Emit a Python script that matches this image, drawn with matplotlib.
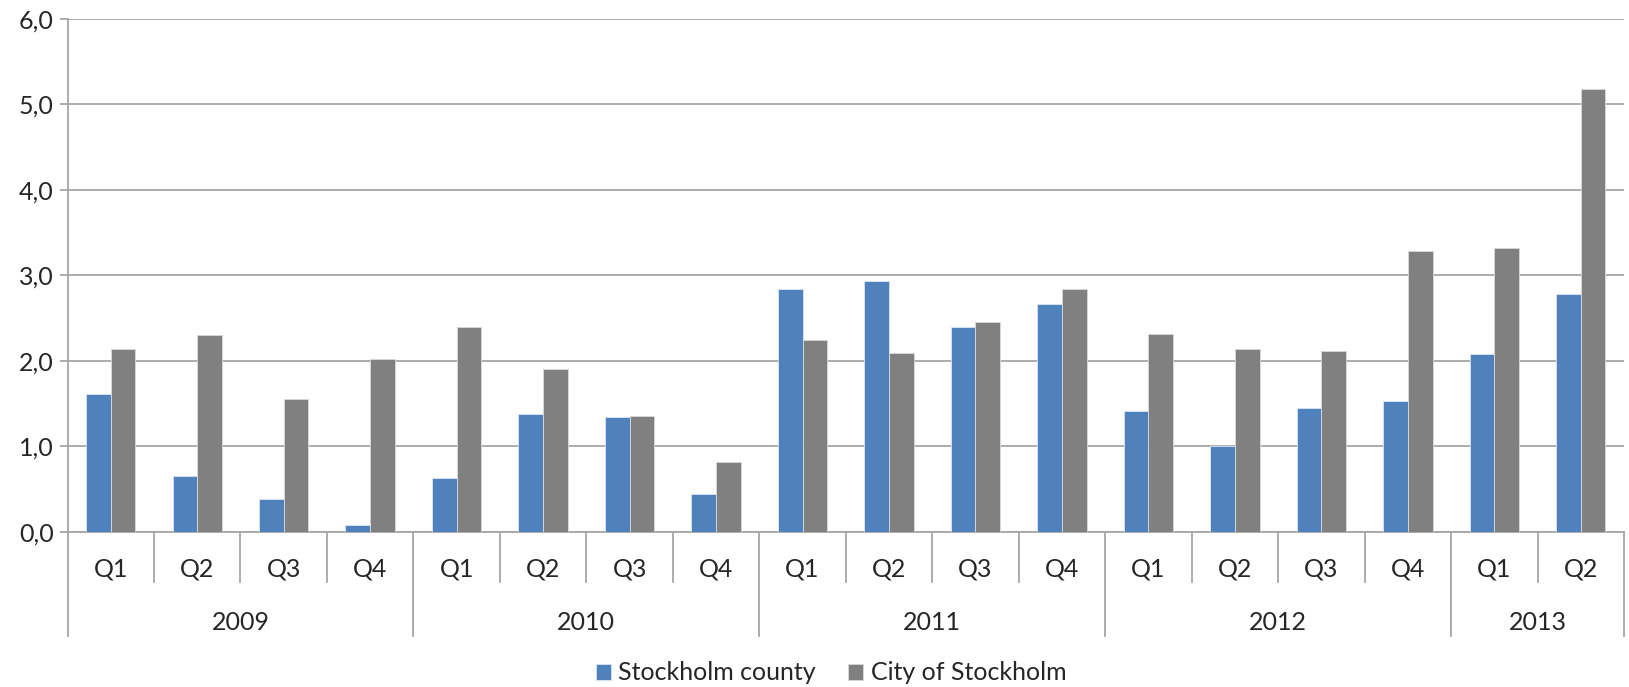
import numpy as np
import matplotlib
matplotlib.use("Agg")
from matplotlib import pyplot as plt
import matplotlib.transforms as mtransforms

plt.rcParams['font.family'] = ['Lato', 'DejaVu Sans']

quarters = ["Q1", "Q2", "Q3", "Q4", "Q1", "Q2", "Q3", "Q4", "Q1", "Q2", "Q3", "Q4",
            "Q1", "Q2", "Q3", "Q4", "Q1", "Q2"]
years = ["2009", "2010", "2011", "2012", "2013"]
quarters_per_year = [4, 4, 4, 4, 2]
county = [1.61, 0.65, 0.39, 0.08, 0.63, 1.38, 1.35, 0.45, 2.84, 2.93, 2.40, 2.66,
          1.41, 1.00, 1.45, 1.53, 2.08, 2.78]
city = [2.14, 2.30, 1.56, 2.02, 2.40, 1.90, 1.36, 0.82, 2.24, 2.09, 2.45, 2.84,
        2.32, 2.14, 2.11, 3.29, 3.32, 5.18]
y_ticks = [0, 1, 2, 3, 4, 5, 6]
y_labels = ["0,0", "1,0", "2,0", "3,0", "4,0", "5,0", "6,0"]

W, H = 1629, 687
fig = plt.figure(figsize=(W / 100, H / 100), dpi=100)
left, right, top, bottom = 67.5, 1624, 18.7, 532
ax = fig.add_axes([left / W, 1 - bottom / H, (right - left) / W, (bottom - top) / H])

blue = "#4F81BD"
grey = "#808080"
line_c = "#A6A6A6"
txt_c = "#262626"
fs = 18

x = np.arange(len(quarters))
w = 1 / 3.5
ax.bar(x - w / 2, county, width=w, color=blue, edgecolor="#DCE6F2", linewidth=0.6,
       label="Stockholm county", zorder=3)
ax.bar(x + w / 2, city, width=w, color=grey, edgecolor="#D9D9D9", linewidth=0.6,
       label="City of Stockholm", zorder=3)

ax.set_xlim(-0.5, len(quarters) - 0.5)
ax.set_ylim(0, 6)
ax.set_yticks(y_ticks)
ax.set_yticklabels(y_labels, fontsize=fs, color=txt_c)
ax.yaxis.grid(True, color=line_c, linewidth=1.3, zorder=0)
ax.tick_params(axis="y", length=6, width=1.3, color=line_c, pad=4)
ax.set_xticks(x)
ax.set_xticklabels(quarters, fontsize=fs, color=txt_c)
ax.tick_params(axis="x", length=0, pad=18)

for s in ["top", "right"]:
    ax.spines[s].set_visible(False)
for s in ["left", "bottom"]:
    ax.spines[s].set_color(line_c)
    ax.spines[s].set_linewidth(1.3)

# multi-level category axis
ah = bottom - top
trans = mtransforms.blended_transform_factory(ax.transData, ax.transAxes)
q_depth = -50 / ah
y_depth = -104 / ah
bounds = np.cumsum([0] + quarters_per_year) - 0.5
for i in range(1, len(quarters)):
    xb = i - 0.5
    d = y_depth if xb in bounds else q_depth
    ax.plot([xb, xb], [0, d], transform=trans, color=line_c, lw=1.3, clip_on=False)
for xb in [bounds[0], bounds[-1]]:
    ax.plot([xb, xb], [0, y_depth], transform=trans, color=line_c, lw=1.3, clip_on=False)
for yr, a, b in zip(years, bounds[:-1], bounds[1:]):
    ax.text((a + b) / 2, -91 / ah, yr, transform=trans, ha="center", va="center",
            fontsize=fs, color=txt_c)

fig.legend(loc="center", bbox_to_anchor=(831 / W, 1 - 673 / H), ncol=2, frameon=False,
           fontsize=fs, handlelength=0.6, handleheight=0.6, handletextpad=0.3,
           columnspacing=1.3, labelcolor=txt_c)

fig.savefig("out.png", dpi=100)
